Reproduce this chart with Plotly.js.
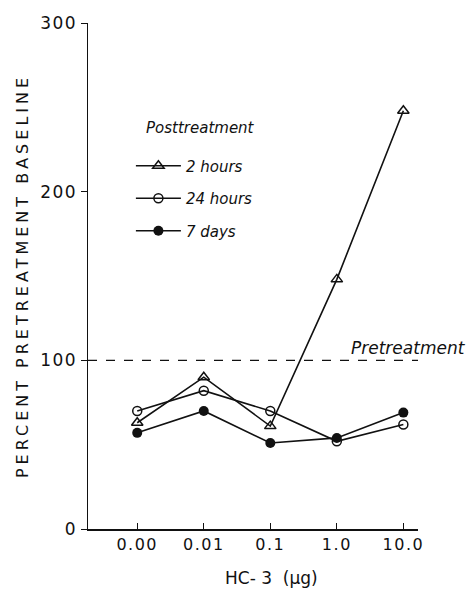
<!DOCTYPE html>
<html><head><meta charset="utf-8">
<script src="https://cdn.plot.ly/plotly-3.0.1.min.js"></script>
<style>
body{margin:0;background:#fff}
.ytitle{letter-spacing:4px}
.xtick text,.ytick text{letter-spacing:1.5px}
</style>
</head><body><div id="chart" style="width:476px;height:590px"></div>
<script>
const doseLabels = ["0.00", "0.01", "0.1", "1.0", "10.0"];
const hours2 = [63, 90, 61, 148, 248];
const hours24 = [70, 82, 70, 52, 62];
const days7 = [57, 70, 51, 54, 69];
const baseline = 100;
const yTicks = [0, 100, 200, 300];

const xIdx = doseLabels.map((_, i) => i);
const lineStyle = {color: "#111", width: 1.6};
const traces = [
  {x: xIdx, y: hours2, name: "2 hours", mode: "lines+markers", line: lineStyle, legendgroup: "a",
   marker: {symbol: "triangle-up-open", size: 10, color: "#111", line: {width: 1.5}}},
  {x: xIdx, y: hours24, name: "24 hours", mode: "lines+markers", line: lineStyle, legendgroup: "b",
   marker: {symbol: "circle-open", size: 9, color: "#111", line: {width: 1.5}}},
  {x: xIdx, y: days7, name: "7 days", mode: "lines+markers", line: lineStyle, legendgroup: "c",
   marker: {symbol: "circle", size: 10, color: "#111"}}
];
const fam = "DejaVu Sans, Verdana, sans-serif";
const layout = {
  width: 476, height: 590,
  margin: {l: 88, r: 58, t: 23, b: 61},
  paper_bgcolor: "#fff", plot_bgcolor: "#fff",
  font: {family: fam, color: "#111", size: 15},
  showlegend: true,
  legend: {x: 0.13, y: 0.75, xanchor: "left", yanchor: "top", bgcolor: "rgba(0,0,0,0)",
    font: {size: 15, style: "italic", color: "#111"}, itemwidth: 45, tracegroupgap: 10},
  xaxis: {range: [-0.74, 4.22], tickmode: "array", tickvals: xIdx, ticktext: doseLabels,
    showgrid: false, zeroline: false, showline: true, linecolor: "#111", linewidth: 1.5,
    ticks: "inside", ticklen: 6, tickcolor: "#111", tickfont: {size: 16}},
  yaxis: {range: [0, 300], tickmode: "array", tickvals: yTicks,
    showgrid: false, zeroline: false, showline: true, linecolor: "#111", linewidth: 1.5,
    ticks: "outside", ticklen: 6, tickcolor: "#111", tickfont: {size: 17},
    title: {text: "PERCENT PRETREATMENT BASELINE", font: {size: 16}, standoff: 7}},
  shapes: [{type: "line", xref: "paper", x0: 0, x1: 1, yref: "y", y0: baseline, y1: baseline,
    line: {color: "#111", width: 1.3, dash: "dash"}}],
  annotations: [
    {text: "Posttreatment", xref: "paper", x: 0.17, xanchor: "left", yref: "paper", y: 0.793,
     yanchor: "middle", showarrow: false, font: {size: 15, style: "italic", color: "#111"}},
    {text: "Pretreatment", xref: "paper", x: 0.79, xanchor: "left", yref: "y", y: baseline,
     yanchor: "bottom", showarrow: false, font: {size: 17, style: "italic", color: "#111"}},
    {text: "HC- 3  (μg)", xref: "paper", x: 0.557, xanchor: "center", yref: "paper", y: -0.097,
     yanchor: "middle", showarrow: false, font: {size: 17, color: "#111"}}
  ]
};
Plotly.newPlot("chart", traces, layout, {displayModeBar: false, staticPlot: true});
</script></body></html>
